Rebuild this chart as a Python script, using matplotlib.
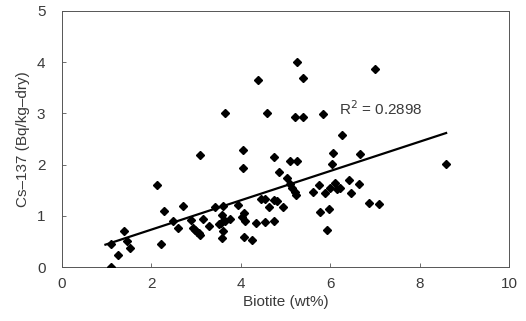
import numpy as np
import matplotlib

matplotlib.use('Agg')

import matplotlib.pyplot as plt

# --- Data ---
biotite = [
    1.09, 1.09, 1.26, 1.39, 1.45, 1.52, 2.12, 2.21, 2.27, 2.49,
    2.59, 2.70, 2.89, 2.92, 2.97, 3.01, 3.07, 3.09, 3.09, 3.15,
    3.28, 3.42, 3.52, 3.55, 3.57, 3.60, 3.57, 3.61, 3.65, 3.65,
    3.76, 3.93, 4.02, 4.04, 4.04, 4.06, 4.08, 4.10, 4.24, 4.34,
    4.38, 4.46, 4.55, 4.54, 4.58, 4.62, 4.73, 4.74, 4.74, 4.80,
    4.86, 4.95, 5.03, 5.09, 5.10, 5.14, 5.20, 5.24, 5.25, 5.20,
    5.25, 5.38, 5.38, 5.62, 5.74, 5.77, 5.83, 5.88, 5.92, 5.96,
    6.00, 6.04, 6.06, 6.11, 6.16, 6.22, 6.25, 6.41, 6.47, 6.65,
    6.66, 6.87, 6.99, 7.08, 8.59,
]
cs137 = [
    0.00, 0.46, 0.23, 0.70, 0.51, 0.38, 1.60, 0.45, 1.09, 0.90,
    0.76, 1.19, 0.92, 0.76, 0.72, 0.69, 0.66, 0.62, 2.19, 0.93,
    0.80, 1.17, 0.84, 0.87, 1.02, 1.20, 0.56, 0.70, 3.01, 0.90,
    0.94, 1.21, 0.98, 2.28, 1.93, 1.05, 0.59, 0.90, 0.53, 0.86,
    3.65, 1.32, 1.32, 0.88, 3.01, 1.17, 0.90, 2.15, 1.31, 1.28,
    1.86, 1.18, 1.73, 2.08, 1.62, 1.55, 1.47, 1.41, 2.08, 2.92,
    4.00, 3.70, 2.92, 1.47, 1.60, 1.08, 2.98, 1.45, 0.72, 1.13,
    1.55, 2.01, 2.23, 1.65, 1.53, 1.54, 2.58, 1.69, 1.44, 1.62,
    2.21, 1.26, 3.87, 1.23, 2.01,
]

# Linear trendline as drawn in the reference
trend_slope = 0.286
trend_intercept = 0.16
r2_label = 'R$^2$ = 0.2898'

plt.rcParams['font.family'] = ['Liberation Sans', 'DejaVu Sans']
text_col = '#3a3a3a'

fig = plt.figure(figsize=(5.26, 3.21), dpi=100)
ax = fig.add_axes([0.118, 0.168, 0.850, 0.798])

ax.plot(biotite, cs137, linestyle='none', marker='D', markersize=4.3,
        color='black', zorder=3)

x_line = np.array([min(biotite) - 0.12, max(biotite)])
ax.plot(x_line, trend_intercept + trend_slope * x_line, color='black',
        linewidth=1.6, zorder=2)

ax.text(6.2, 3.1, r2_label, fontsize=11, color=text_col, va='center')

ax.set_xlim(0, 10)
ax.set_ylim(0, 5)
ax.set_xticks([0, 2, 4, 6, 8, 10])
ax.set_yticks([0, 1, 2, 3, 4, 5])
ax.tick_params(axis='x', direction='in', length=3, width=0.6, labelsize=11,
               colors='#555555', labelcolor=text_col, pad=7)
ax.tick_params(axis='y', direction='in', length=3, width=0.6, labelsize=11,
               colors='#555555', labelcolor=text_col, pad=12)
for sp in ax.spines.values():
    sp.set_linewidth(0.7)
    sp.set_color('#555555')

ax.set_xlabel('Biotite (wt%)', fontsize=11, color=text_col, labelpad=3)
ax.set_ylabel('Cs\u2013137 (Bq/kg\u2013dry)', fontsize=11, color=text_col,
              labelpad=5)

fig.savefig('out.png', dpi=100)
